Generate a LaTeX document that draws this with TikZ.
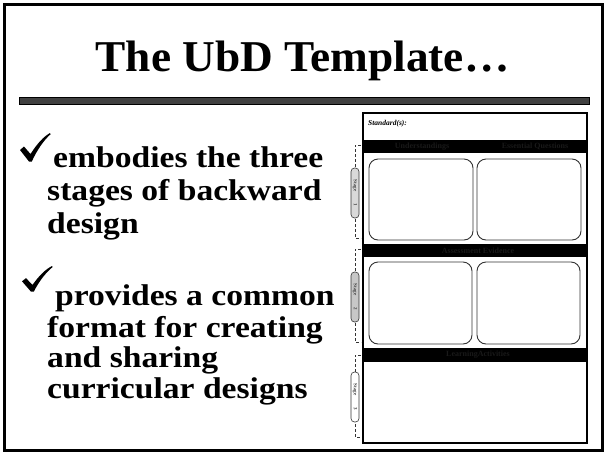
\documentclass[tikz,border=0pt]{standalone}
\usepackage{fontspec}
\setmainfont{Liberation Serif}
\newfontfamily\bodyfont{Liberation Serif}[FakeStretch=1.12]
\newfontfamily\titlefont{Liberation Serif}[FakeStretch=1.03]
\begin{document}
\begin{tikzpicture}[x=1pt,y=-1pt,
  band/.style={fill=black,draw=none},
  cell/.style={draw=black!80,line width=0.9pt,rounded corners=9pt,fill=white},
  bracket/.style={dash pattern=on 3pt off 2pt,line width=0.7pt,draw=black!80},
  capsule/.style={draw=black!80,line width=0.6pt,rounded corners=3.5pt,
    minimum width=50pt,minimum height=8pt,inner sep=0pt,rotate=-90,
    font=\fontsize{5}{5}\selectfont\bfseries,text=black!75},
  head/.style={font=\fontsize{8}{8}\selectfont\bfseries,text=black!90,inner sep=0pt},
  bodyline/.style={anchor=base west,inner sep=0pt,font=\bodyfont\fontsize{30}{33}\selectfont\bfseries},
  checkmark/.pic={
    \fill (0,17) -- (4,13.5) -- (10.5,21)
      .. controls (17,11) and (23,4) .. (30,0) -- (30.6,1.2)
      .. controls (24,7) and (17,17) .. (11.8,28.5) -- (9,28.5) -- cycle;
  }]
\useasboundingbox (0,0) rectangle (605,453);

% slide frame
\draw[line width=3pt] (4.5,4.5) rectangle (602.5,450.5);

% title and rule
\node[anchor=base,inner sep=0pt,font=\titlefont\fontsize{44}{44}\selectfont\bfseries]
  (title) at (302.5,71) {The UbD Template\ldots};
\draw[fill=black!75,line width=0.8pt] (19,97.7) rectangle (589,104);

% bullet points
\pic (chk1) at (20,133) {checkmark};
\node[bodyline] (b1a) at (53,167) {embodies the three};
\node[bodyline] (b1b) at (47,200) {stages of backward};
\node[bodyline] (b1c) at (47,233) {design};

\pic[yscale=0.9] (chk2) at (22,266) {checkmark};
\node[bodyline] (b2a) at (55,305) {provides a common};
\node[bodyline] (b2b) at (47,337) {format for creating};
\node[bodyline] (b2c) at (47,367) {and sharing};
\node[bodyline] (b2d) at (47,398) {curricular designs};

% template sheet
\draw[line width=2pt,fill=white] (363,113) rectangle (587,443);
\node[anchor=west,inner sep=0pt,font=\fontsize{7.5}{8}\selectfont\bfseries\itshape]
  (std) at (368,124) {Standard(s):};

\fill[band] (364,140) rectangle (586,153);
\node[head] (hU) at (422,146.5) {Understandings};
\node[head] (hQ) at (535,146.5) {Essential Questions};
\draw[cell] (369,159) rectangle (473,240);
\draw[cell] (477,159) rectangle (581,240);

\fill[band] (364,244) rectangle (586,257);
\node[head] (hA) at (478,250.5) {Assessment Evidence};
\draw[cell] (369,262) rectangle (472,344);
\draw[cell] (477,262) rectangle (580,344);

\fill[band] (364,348) rectangle (586,362);
\node[head] (hL) at (478,355) {LearningActivities};

% stage brackets and tabs
\draw[bracket] (361,145) -- (355,145) -- (355,238) -- (361,238);
\draw[bracket] (361,249) -- (355,249) -- (355,342) -- (361,342);
\draw[bracket] (361,355) -- (355,355) -- (355,437) -- (361,437);
\node[capsule,fill=black!15] (s1) at (355,193) {Stage\hspace{12pt}1};
\node[capsule,fill=black!22] (s2) at (355,297) {Stage\hspace{12pt}2};
\node[capsule,fill=white] (s3) at (355,397) {Stage\hspace{12pt}3};
\end{tikzpicture}
\end{document}
